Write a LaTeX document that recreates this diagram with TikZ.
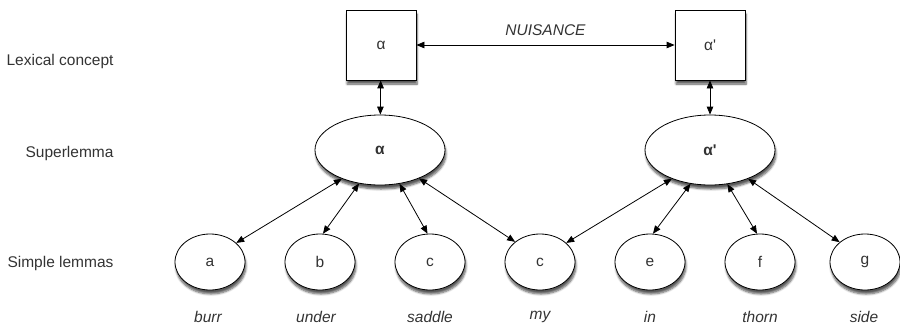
\documentclass[tikz,border=0pt]{standalone}
\usepackage{fontspec}
\setmainfont{Liberation Sans}
\usetikzlibrary{arrows.meta,shapes.geometric,shadows.blur}
\begin{document}
\begin{tikzpicture}[x=1pt,y=-1pt,
  every node/.style={font=\fontsize{15.5}{18}\selectfont, text=black!80},
  shad/.style={blur shadow={shadow xshift=1pt, shadow yshift=-4pt, shadow blur steps=6, shadow opacity=65}},
  concept/.style={draw, fill=white, minimum width=70pt, minimum height=70pt, inner sep=0pt, line width=0.8pt, shad},
  superl/.style={draw, ellipse, fill=white, minimum width=130pt, minimum height=70pt, inner sep=0pt, line width=0.8pt, font=\fontsize{15.5}{18}\selectfont\bfseries, shad},
  simple/.style={draw, ellipse, fill=white, minimum width=70pt, minimum height=56pt, inner sep=0pt, line width=0.8pt, shad},
  word/.style={font=\fontsize{15.5}{18}\selectfont\itshape},
  rowlabel/.style={anchor=east},
  arr/.style={{Triangle[length=8pt,width=6.5pt]}-{Triangle[length=8pt,width=6.5pt]}, line width=0.8pt}
]
\useasboundingbox (0,0) rectangle (900,325);

% row labels
\node[rowlabel] (llex) at (117,61) {Lexical concept};
\node[rowlabel] (lsup) at (117,153) {Superlemma};
\node[rowlabel] (lsim) at (117,263) {Simple lemmas};

% lexical concepts
\node[concept] (ca) at (381,45) {α};
\node[concept] (cb) at (710,45) {α\textquotesingle};

% superlemmas
\node[superl] (sa) at (380,150) {α};
\node[superl] (sb) at (710,150) {α\textquotesingle};

% simple lemmas
\node[simple] (la) at (210,262) {a};
\node[simple] (lb) at (320,262) {b};
\node[simple] (lc) at (430,262) {c};
\node[simple] (ld) at (540,262) {c};
\node[simple] (le) at (650,262) {e};
\node[simple] (lf) at (760,262) {f};
\node[simple] (lg) at (865,262) {g};

% words
\node[word] (wa) at (208,317) {burr};
\node[word] (wb) at (316,317) {under};
\node[word] (wc) at (430,317) {saddle};
\node[word] (wd) at (540,317) {my};
\node[word] (we) at (650,317) {in};
\node[word] (wf) at (760,317) {thorn};
\node[word] (wg) at (864,317) {side};

% connectors
\draw[arr] (ca) -- node[above=6pt, font=\fontsize{15.5}{18}\selectfont\itshape] (nuis) {NUISANCE} (cb);
\draw[arr] (ca) -- (sa);
\draw[arr] (cb) -- (sb);

\draw[arr] (sa.217) -- (la.36);
\draw[arr] (sa.238) -- (lb.84);
\draw[arr] (sa.300) -- (lc.95);
\draw[arr] (sa.324) -- (ld.141);

\draw[arr] (sb.217) -- (ld.36);
\draw[arr] (sb.240) -- (le.84);
\draw[arr] (sb.297) -- (lf.96);
\draw[arr] (sb.323) -- (lg.142);
\end{tikzpicture}
\end{document}
